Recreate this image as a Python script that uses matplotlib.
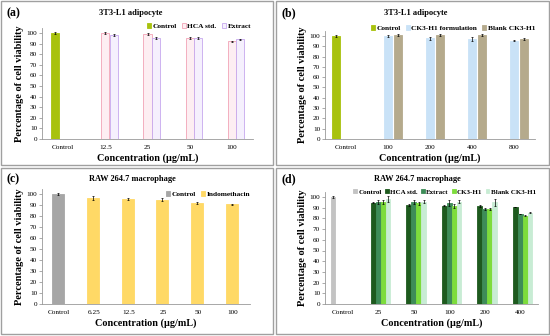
import matplotlib
matplotlib.use("Agg")
import matplotlib.pyplot as plt
import numpy as np
from matplotlib.patches import Rectangle

plt.rcParams['font.family'] = ['Liberation Serif', 'DejaVu Serif']

# ---------------- data ----------------
# Panel (a)
a_categories = ["Control", "12.5", "25", "50", "100"]
a_control = [100, None, None, None, None]
a_hca = [None, 100, 99, 95, 92]
a_extract = [None, 98, 95.5, 95, 94]
a_hca_err = [None, 1.0, 1.0, 0.8, 0.6]
a_extract_err = [None, 0.8, 0.8, 0.8, 0.6]
a_control_err = [0.8, None, None, None, None]

# Panel (b)
b_categories = ["Control", "100", "200", "400", "800"]
b_control = [100, None, None, None, None]
b_ck3 = [None, 100, 98, 97, 95.5]
b_blank = [None, 101, 101, 101, 97]
b_control_err = [0.8, None, None, None, None]
b_ck3_err = [None, 0.8, 1.5, 2.0, 0.5]
b_blank_err = [None, 1.0, 1.2, 0.8, 0.6]

# Panel (c)
c_categories = ["Control", "6.25", "12.5", "25", "50", "100"]
c_control = [100, None, None, None, None, None]
c_indo = [None, 96.5, 95.5, 95, 92, 90.5]
c_control_err = [1.0, None, None, None, None, None]
c_indo_err = [None, 1.5, 1.2, 1.8, 1.0, 0.5]

# Panel (d)
d_categories = ["Control", "25", "50", "100", "200", "400"]
d_control = [100, None, None, None, None, None]
d_hca = [None, 94.5, 92.5, 92, 91.5, 90.5]
d_extract = [None, 95.5, 95.5, 94.5, 89, 84]
d_ck3 = [None, 95, 94, 91.5, 89, 82.5]
d_blank = [None, 98, 95.5, 95.5, 95, 85.5]
d_control_err = [0.8, None, None, None, None, None]
d_hca_err = [None, 0.5, 0.5, 0.5, 1.0, 0.3]
d_extract_err = [None, 2.0, 2.0, 2.5, 1.0, 0.3]
d_ck3_err = [None, 2.0, 1.5, 2.0, 0.8, 0.3]
d_blank_err = [None, 2.5, 1.5, 1.5, 3.0, 0.6]

W, H = 550, 336
fig = plt.figure(figsize=(W / 100, H / 100), dpi=100)
fig.patch.set_facecolor("white")


def box(x0, y0, x1, y1):
    fig.patches.append(Rectangle((x0 / W, 1 - y1 / H), (x1 - x0) / W, (y1 - y0) / H,
                                 transform=fig.transFigure, fill=False,
                                 edgecolor="#a0a0a0", linewidth=1.0))


def make_axes(left, right, y0px, y100px):
    ymax = 105
    pxu = (y0px - y100px) / 100.0
    top = y0px - ymax * pxu
    ax = fig.add_axes([left / W, 1 - y0px / H, (right - left) / W, (y0px - top) / H])
    ax._px = (y0px, top)
    return ax


def draw(ax, cats, series, width, offsets, title, label, legend_right, legend_ypx,
         title_px, label_px, legfs=5.3, colsp=0.7):
    x = np.arange(len(cats))
    handles = []
    for (name, vals, errs, fc, ec), off in zip(series, offsets):
        xs = [xi + off for xi, v in zip(x, vals) if v is not None]
        vs = [v for v in vals if v is not None]
        es = [e for e in errs if e is not None]
        b = ax.bar(xs, vs, width=width, color=fc, edgecolor=ec, linewidth=0.6,
                   yerr=es, error_kw=dict(ecolor="black", elinewidth=0.5, capsize=0.8, capthick=0.5),
                   label=name, zorder=2)
        handles.append(b)
    ax.set_xlim(-0.5, len(cats) - 0.5)
    ax.set_ylim(0, 105)
    ax.set_yticks(range(0, 101, 10))
    ax.set_xticks(x)
    ax.set_xticklabels(cats)
    ax.tick_params(axis="both", labelsize=5.2, length=2, width=0.5, color="#888888", pad=1.5)
    ax.tick_params(axis="x", length=0, pad=4)
    for s in ["top", "right"]:
        ax.spines[s].set_visible(False)
    for s in ["left", "bottom"]:
        ax.spines[s].set_color("#999999")
        ax.spines[s].set_linewidth(0.6)
    ax.set_ylabel("Percentage of cell viability", fontsize=7.5, fontweight="bold", labelpad=2)
    ax.set_xlabel("Concentration (\u00b5g/mL)", fontsize=7.3, fontweight="bold", labelpad=3)
    y0px, top = ax._px
    yfrac = (y0px - legend_ypx) / (y0px - top)
    ax.legend(handles=handles, frameon=False, ncol=len(series),
              handlelength=0.55, handleheight=0.55, handletextpad=0.2, columnspacing=colsp,
              prop={"weight": "bold", "size": legfs}, borderaxespad=0, borderpad=0,
              loc="center right", bbox_to_anchor=(legend_right, yfrac))
    fig.text(title_px[0] / W, 1 - title_px[1] / H, title, fontsize=6.0, fontweight="bold",
             ha="center", va="center")
    fig.text(label_px[0] / W, 1 - label_px[1] / H, label, fontsize=8.5, fontweight="bold",
             ha="left", va="center")


# panel boxes
box(1, 1, 273, 165)
box(276, 1, 549, 165)
box(1, 168, 273, 334)
box(276, 168, 549, 334)

# (a)
ax = make_axes(42, 253, 139, 33)
draw(ax, a_categories,
     [("Control", a_control, a_control_err, "#a8c20e", "#a8c20e"),
      ("HCA std.", a_hca, a_hca_err, "#fdeef2", "#f2a3b6"),
      ("Extract", a_extract, a_extract_err, "#f5f0fd", "#c6a8ee")],
     0.19, [-0.2, 0.0, 0.2], "3T3-L1 adipocyte", "(a)", 0.99, 26, (131, 13), (6, 13))

# (b)
ax = make_axes(325, 535, 139, 36)
draw(ax, b_categories,
     [("Control", b_control, b_control_err, "#a8c20e", "#a8c20e"),
      ("CK3-H1 formulation", b_ck3, b_ck3_err, "#c9e2f7", "#c9e2f7"),
      ("Blank CK3-H1", b_blank, b_blank_err, "#b5aa8c", "#b5aa8c")],
     0.18, [-0.24, 0.0, 0.24], "3T3-L1 adipocyte", "(b)", 1.0, 28, (416, 13), (282, 13))

# (c)
ax = make_axes(42, 250, 304, 194)
draw(ax, c_categories,
     [("Control", c_control, c_control_err, "#a6a6a6", "#a6a6a6"),
      ("Indomethacin", c_indo, c_indo_err, "#ffd966", "#ffd966")],
     0.34, [-0.03, -0.03], "RAW 264.7 macrophage", "(c)", 1.0, 194, (132, 179), (6, 179))

# (d)
ax = make_axes(325, 538, 304, 197)
draw(ax, d_categories,
     [("Control", d_control, d_control_err, "#c3c3c3", "#c3c3c3"),
      ("HCA std.", d_hca, d_hca_err, "#1e5a1e", "#1e5a1e"),
      ("Extract", d_extract, d_extract_err, "#3e8c58", "#3e8c58"),
      ("CK3-H1", d_ck3, d_ck3_err, "#7ddc3c", "#7ddc3c"),
      ("Blank CK3-H1", d_blank, d_blank_err, "#c8ecd4", "#c8ecd4")],
     0.13, [-0.28, -0.14, 0.0, 0.14, 0.28], "RAW 264.7 macrophage", "(d)", 0.99, 192,
     (417, 179), (282, 179), legfs=5.0, colsp=0.45)

fig.savefig("out.png", dpi=100)
